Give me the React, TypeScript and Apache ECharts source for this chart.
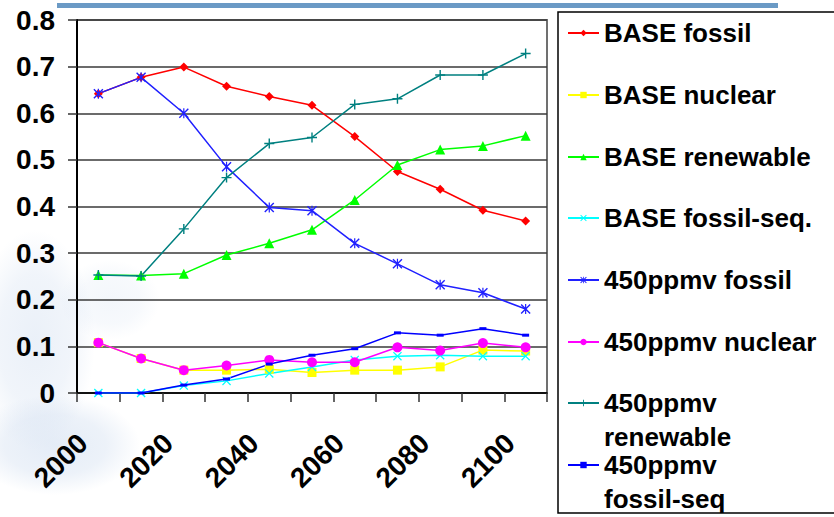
import React, { useEffect, useRef } from "react";
import * as echarts from "echarts";

const years = ["2000", "2010", "2020", "2030", "2040", "2050", "2060", "2070", "2080", "2090", "2100"];

const seriesNames = [
  "BASE fossil",
  "BASE nuclear",
  "BASE renewable",
  "BASE fossil-seq.",
  "450ppmv fossil",
  "450ppmv nuclear",
  "450ppmv renewable",
  "450ppmv fossil-seq",
];

const baseFossil = [0.642, 0.677, 0.699, 0.658, 0.636, 0.617, 0.55, 0.475, 0.437, 0.392, 0.369];
const baseNuclear = [0.108, 0.074, 0.049, 0.049, 0.051, 0.044, 0.049, 0.049, 0.056, 0.092, 0.09];
const baseRenewable = [0.253, 0.252, 0.256, 0.296, 0.321, 0.35, 0.414, 0.489, 0.522, 0.53, 0.552];
const baseFossilSeq = [0, 0, 0.016, 0.026, 0.042, 0.056, 0.071, 0.079, 0.081, 0.079, 0.079];
const ppmFossil = [0.642, 0.677, 0.6, 0.485, 0.398, 0.391, 0.321, 0.277, 0.232, 0.215, 0.18];
const ppmNuclear = [0.108, 0.074, 0.049, 0.059, 0.071, 0.066, 0.066, 0.098, 0.091, 0.107, 0.098];
const ppmRenewable = [0.253, 0.251, 0.352, 0.462, 0.535, 0.548, 0.619, 0.631, 0.682, 0.682, 0.728];
const ppmFossilSeq = [0, 0, 0.017, 0.03, 0.062, 0.081, 0.095, 0.129, 0.124, 0.138, 0.124];

const yTicks = ["0", "0.1", "0.2", "0.3", "0.4", "0.5", "0.6", "0.7", "0.8"];

const FONT = "'Liberation Sans', Arial, sans-serif";

const X_PATH =
  "path://M0,1 L1,0 L5,4 L9,0 L10,1 L6,5 L10,9 L9,10 L5,6 L1,10 L0,9 L4,5 Z";
const STAR_PATH =
  "path://M0,1 L1,0 L5,4 L9,0 L10,1 L6,5 L10,9 L9,10 L5,6 L1,10 L0,9 L4,5 Z M4.4,0 L5.6,0 L5.6,10 L4.4,10 Z";
const PLUS_PATH = "path://M4.3,0 L5.7,0 L5.7,4.3 L10,4.3 L10,5.7 L5.7,5.7 L5.7,10 L4.3,10 L4.3,5.7 L0,5.7 L0,4.3 L4.3,4.3 Z";

const soft = (a: number) => ({
  type: "radial",
  x: 0.5,
  y: 0.5,
  r: 0.5,
  colorStops: [
    { offset: 0, color: `rgba(196,213,236,${a})` },
    { offset: 0.6, color: `rgba(196,213,236,${a * 0.7})` },
    { offset: 1, color: "rgba(196,213,236,0)" },
  ],
});

export default function App() {
  const ref = useRef<HTMLDivElement>(null);

  useEffect(() => {
    document.body.style.margin = "0";
    if (!ref.current) return;
    const chart = echarts.init(ref.current, null, { renderer: "svg" });

    const values = [
      baseFossil,
      baseNuclear,
      baseRenewable,
      baseFossilSeq,
      ppmFossil,
      ppmNuclear,
      ppmRenewable,
      ppmFossilSeq,
    ];
    const colors = ["#ff0000", "#ffff00", "#00ff00", "#00ffff", "#2020ff", "#ff00ff", "#008080", "#0000ff"];
    const symbols: any[] = ["diamond", "rect", "triangle", X_PATH, STAR_PATH, "circle", PLUS_PATH, "rect"];
    const symbolSizes: any[] = [9, 9, 10, 9, 10, 10, 10, [7, 3]];

    const series = seriesNames.map((name, i) => ({
      name,
      type: "line",
      data: values[i],
      symbol: symbols[i],
      symbolSize: symbolSizes[i],
      showSymbol: true,
      itemStyle: { color: colors[i] },
      lineStyle: { color: colors[i], width: 1.5 },
      emphasis: { disabled: true },
    }));

    const legendCenters = [33, 95, 157, 218, 280, 342, 403, 465];
    const legends = seriesNames.map((name, i) => {
      const twoLine = name === "450ppmv renewable" || name === "450ppmv fossil-seq";
      return {
        data: [name],
        orient: "vertical",
        left: 567,
        top: twoLine ? legendCenters[i] - 51 : legendCenters[i] - 14,
        padding: 0,
        itemWidth: 31,
        itemHeight: 8,
        selectedMode: false,
        formatter: (n: string) => (twoLine ? "\n" + n.replace(" ", "\n") : n),
        textStyle: {
          fontFamily: FONT,
          fontWeight: "bold",
          fontSize: 26,
          color: "#000",
          lineHeight: twoLine ? 34 : 28,
        },
      };
    });

    chart.setOption({
      animation: false,
      backgroundColor: "#ffffff",
      grid: {
        left: 77,
        top: 20,
        right: 287,
        bottom: 124,
        show: true,
        borderColor: "#707070",
        borderWidth: 2,
        backgroundColor: "transparent",
        outerBoundsMode: "none",
        containLabel: false,
      },
      legend: legends,
      graphic: [
        {
          type: "group",
          silent: true,
          z: -10,
          children: [
            { type: "ellipse", shape: { cx: 35, cy: 340, rx: 60, ry: 110 }, style: { fill: soft(0.35) } },
            { type: "ellipse", shape: { cx: 55, cy: 445, rx: 85, ry: 50 }, style: { fill: soft(0.45) } },
            { type: "ellipse", shape: { cx: 110, cy: 300, rx: 50, ry: 40 }, style: { fill: soft(0.2) } },
          ],
        },
        {
          type: "rect",
          shape: { x: 57, y: 3, width: 721, height: 5 },
          style: { fill: "#6b9ac5" },
          silent: true,
        },
        {
          type: "rect",
          shape: { x: 558, y: 12, width: 300, height: 501 },
          style: { fill: "#ffffff", stroke: "#000000", lineWidth: 1.5 },
          silent: true,
          z: -1,
        },
      ],
      xAxis: {
        type: "category",
        data: years,
        boundaryGap: true,
        axisLine: { lineStyle: { color: "#000", width: 1.5 } },
        axisTick: { show: true, interval: 0, length: 9, lineStyle: { color: "#333", width: 1.5 } },
        axisLabel: {
          interval: 1,
          rotate: 45,
          margin: 30,
          padding: [0, 22, 0, 0],
          fontFamily: FONT,
          fontWeight: "bold",
          fontSize: 28,
          color: "#000",
        },
        splitLine: { show: false },
      },
      yAxis: {
        type: "value",
        min: 0,
        max: 0.8,
        interval: 0.1,
        axisLine: { show: true, lineStyle: { color: "#000", width: 2 } },
        axisTick: { show: true, length: 9, lineStyle: { color: "#333", width: 1.5 } },
        axisLabel: {
          margin: 22,
          fontFamily: FONT,
          fontWeight: "bold",
          fontSize: 28,
          color: "#000",
          formatter: (v: number) => yTicks[Math.round(v * 10)] ?? String(v),
        },
        splitLine: { show: true, lineStyle: { color: "#3a3a3a", width: 1.5 } },
      },
      tooltip: { show: false },
      series,
    });

    return () => chart.dispose();
  }, []);

  return <div ref={ref} style={{ width: 834, height: 517 }} />;
}
